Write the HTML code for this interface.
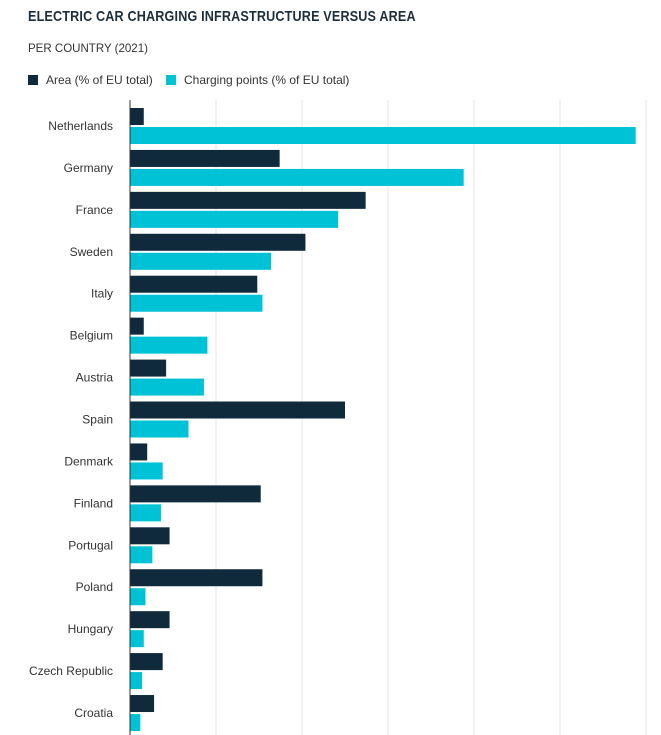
<!DOCTYPE html>
<html><head><meta charset="utf-8"><style>
body{margin:0;background:#fff;width:661px;height:735px;overflow:hidden;font-family:"Liberation Sans",sans-serif;}
.t{position:absolute;left:28px;top:8px;font-size:15px;font-weight:bold;color:#1a2e3b;letter-spacing:0.2px;transform:scaleX(0.84);transform-origin:left top;white-space:nowrap}
.s{position:absolute;left:28px;top:41px;font-size:12px;color:#333;transform:scaleX(0.96);transform-origin:left top}
.lg{position:absolute;top:73px;font-size:12px;color:#333;display:flex;align-items:center}
.sw{width:10px;height:10px;margin-right:8px;display:inline-block}
</style></head><body>
<div class="t">ELECTRIC CAR CHARGING INFRASTRUCTURE VERSUS AREA</div>
<div class="s">PER COUNTRY (2021)</div>
<div class="lg" style="left:28px"><span class="sw" style="background:#0f2a3a"></span>Area (% of EU total)</div>
<div class="lg" style="left:166px"><span class="sw" style="background:#00c2d6"></span>Charging points (% of EU total)</div>
<svg id="c" width="661" height="735" style="position:absolute;left:0;top:0"></svg>
<script>
const countries=["Netherlands","Germany","France","Sweden","Italy","Belgium","Austria","Spain","Denmark","Finland","Portugal","Poland","Hungary","Czech Republic","Croatia"];
const areaValues=[0.8,8.7,13.7,10.2,7.4,0.8,2.1,12.5,1.0,7.6,2.3,7.7,2.3,1.9,1.4];
const chargingValues=[29.4,19.4,12.1,8.2,7.7,4.5,4.3,3.4,1.9,1.8,1.3,0.9,0.8,0.7,0.6];
const gridTicks=[5,10,15,20,25,30];
const svg=document.getElementById('c');const NS='http://www.w3.org/2000/svg';
const x=v=>130+v*17.2;
const yc=i=>126+i*41.93;
function mk(t,a){const e=document.createElementNS(NS,t);for(const k in a)e.setAttribute(k,a[k]);svg.appendChild(e);return e;}
gridTicks.forEach(v=>{const l=mk('line',{x1:x(v),x2:x(v),y1:100,y2:735,stroke:'#e3e6e8','stroke-width':1});

});
countries.forEach((c,i)=>{
const t=mk('text',{x:113,y:yc(i)+4,'text-anchor':'end','font-size':12,fill:'#333','font-family':'Liberation Sans, sans-serif'});t.textContent=c;


const a=mk('rect',{x:130,y:yc(i)-18,width:x(areaValues[i])-130,height:17,fill:'#0f2a3a'});


const b=mk('rect',{x:130,y:yc(i)+1,width:x(chargingValues[i])-130,height:17,fill:'#00c2d6'});


});
const ax=mk('line',{x1:130,x2:130,y1:100,y2:735,stroke:'#333','stroke-width':1});


</script>
</body></html>
